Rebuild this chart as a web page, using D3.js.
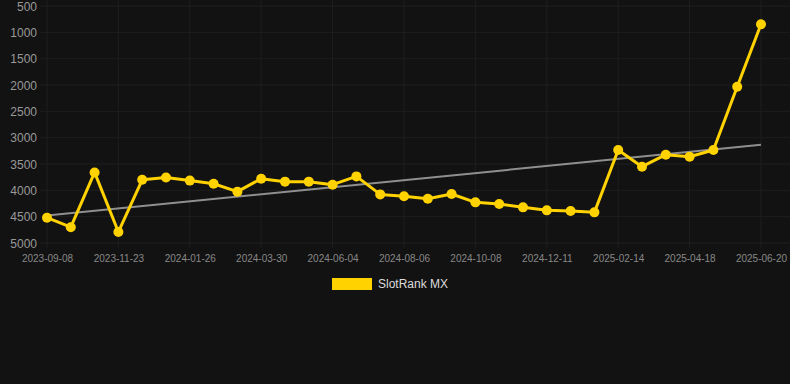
<!DOCTYPE html>
<html><head><meta charset="utf-8">
<script src="https://cdn.jsdelivr.net/npm/d3@7/dist/d3.min.js"></script>
<style>
html,body{margin:0;padding:0;background:#121212;}
svg{display:block;font-family:"Liberation Sans",Arial,Helvetica,sans-serif;}
</style></head><body>
<svg id="c" width="790" height="384"></svg>
<script>
const dates = ["2023-09-08","2023-10-03","2023-10-28","2023-11-23","2023-12-14","2024-01-05","2024-01-26","2024-02-16","2024-03-08","2024-03-30","2024-04-21","2024-05-13","2024-06-04","2024-06-25","2024-07-16","2024-08-06","2024-08-27","2024-09-17","2024-10-08","2024-10-29","2024-11-20","2024-12-11","2025-01-02","2025-01-23","2025-02-14","2025-03-07","2025-03-28","2025-04-18","2025-05-09","2025-05-30","2025-06-20"];
const ranks = [4520,4700,3660,4790,3800,3755,3815,3875,4025,3780,3835,3835,3893,3735,4077,4114,4159,4070,4228,4260,4323,4380,4393,4418,3235,3551,3323,3362,3235,2032,848];
const yTicks = [500,1000,1500,2000,2500,3000,3500,4000,4500,5000];
const seriesName = "SlotRank MX";

(function () {
const svg = d3.select("#c");
const pLeft = 47, pRight = 761, pTop = 6, pBottom = 243;
const x = d3.scalePoint().domain(dates).range([pLeft, pRight]);
const y = d3.scaleLinear().domain([500, 5000]).range([pTop, pBottom]);
const gridColor = "#1e1e1e";

svg.append("g").selectAll("line").data(yTicks).join("line")
  .attr("x1", 40).attr("x2", 790)
  .attr("y1", d => y(d)).attr("y2", d => y(d))
  .attr("stroke", gridColor).attr("stroke-width", 1);
const labelled = dates.filter((d, i) => i % 3 === 0);
svg.append("g").selectAll("line").data(labelled).join("line")
  .attr("x1", d => x(d)).attr("x2", d => x(d))
  .attr("y1", 0).attr("y2", pBottom + 5)
  .attr("stroke", gridColor).attr("stroke-width", 1);

const yAxis = d3.axisLeft(y).tickValues(yTicks).tickSize(0).tickPadding(0).tickFormat(d3.format("d"));
const gy = svg.append("g").attr("transform", "translate(37,0)").call(yAxis);
gy.select(".domain").remove();
gy.selectAll("text").attr("fill", "#999999").style("font-size", "12px").attr("dy", "0.36em");

const xAxis = d3.axisBottom(x).tickValues(labelled).tickSize(0).tickPadding(0);
const gx = svg.append("g").attr("transform", "translate(0,255)").call(xAxis);
gx.select(".domain").remove();
gx.selectAll("text").attr("fill", "#888888").style("font-size", "10px").attr("dy", "0.71em");

const n = ranks.length;
const idx = d3.range(n);
const mx = d3.mean(idx), my = d3.mean(ranks);
const slope = d3.sum(idx, i => (i - mx) * (ranks[i] - my)) / d3.sum(idx, i => (i - mx) ** 2);
const icpt = my - slope * mx;
svg.append("line")
  .attr("x1", x(dates[0])).attr("y1", y(icpt))
  .attr("x2", x(dates[n - 1])).attr("y2", y(icpt + slope * (n - 1)))
  .attr("stroke", "#8f8f8f").attr("stroke-width", 2);

const line = d3.line().x((d, i) => x(dates[i])).y(d => y(d));
svg.append("path").datum(ranks).attr("d", line)
  .attr("fill", "none").attr("stroke", "#FFD200").attr("stroke-width", 3).attr("stroke-linejoin", "round");
svg.append("g").selectAll("circle").data(ranks).join("circle")
  .attr("cx", (d, i) => x(dates[i])).attr("cy", d => y(d)).attr("r", 5)
  .attr("fill", "#FFD200");

svg.append("rect").attr("x", 332).attr("y", 278).attr("width", 40).attr("height", 12).attr("fill", "#FFD200");
svg.append("text").attr("x", 378).attr("y", 284).attr("dy", "0.36em")
  .attr("fill", "#dcdcdc").style("font-size", "12px").text(seriesName);
})();
</script>
</body></html>
